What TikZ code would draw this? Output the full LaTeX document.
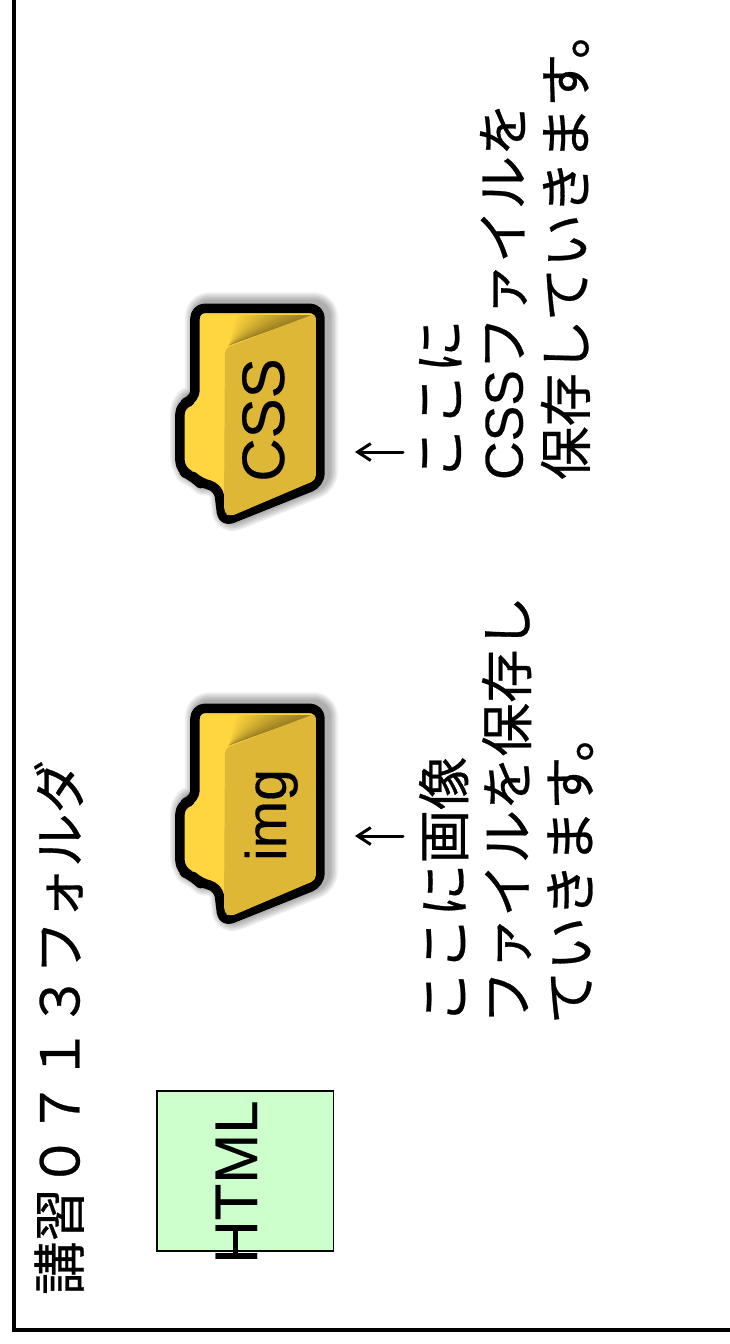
\documentclass[tikz,border=0pt]{standalone}
\usepackage{fontspec}
\setmainfont[FakeBold=0.5]{Noto Sans CJK JP}
\newfontfamily\latinfont[FakeBold=0.3]{Liberation Sans}
\usetikzlibrary{arrows.meta}
\definecolor{folderback}{HTML}{FFD540}
\definecolor{folderfront}{HTML}{DDB735}
\definecolor{boxgreen}{HTML}{CCFFCC}
\tikzset{
  every node/.style={inner sep=0pt,outer sep=0pt},
  note/.style={rotate=90,anchor=north west,align=left,font=\fontsize{53.5}{63}\selectfont},
  title/.style={rotate=90,anchor=west,font=\fontsize{53.5}{60}\selectfont},
  label/.style={rotate=90,anchor=base,font=\latinfont\fontsize{60}{60}\selectfont},
  pointer/.style={draw=black,line width=3pt,line cap=round,-{Straight Barb[length=13pt,width=17pt,line width=3pt]}},
  pics/folder/.style={code={
    \begin{scope}[x=.3333pt,y=-.3333pt]
      \def\outl{(135,200) -- (135,85) -- (510,85) -- (510,610) -- (218,727) -- (205,620) -- (150,610) -- (130,590) -- (90,572) -- (90,372) -- (135,360) -- cycle}
      \foreach \w in {28,25,22,19,16,13}{
        \draw[black,opacity=.06,line width=\w pt,line join=round,xshift=4pt,yshift=2pt,rounded corners=10pt] \outl;
      }
      \draw[fill=folderback,draw=black,line width=9.5pt,line join=round,rounded corners=10pt] \outl;
      \foreach \t in {260,270,...,470}{
        \fill[black,opacity=.018] (235,197) -- (490,105) -- (\t,105) -- cycle;
      }
      \fill[folderfront,rounded corners=5pt]
        (225,205) -- (498,100) -- (498,600) -- (240,710) -- (222,698) -- cycle;
    \end{scope}
  }}
}
\begin{document}
\begin{tikzpicture}[x=1pt,y=-1pt]
  \useasboundingbox (0,0) rectangle (729,1344);
  \fill[white] (0,0) rectangle (729,1344);
  \draw[line width=3.5pt] (14,-5) -- (14,1330) -- (735,1330);

  \node[title] (heading) at (59,1295) {講習０７１３フォルダ};

  \node[draw=black,fill=boxgreen,line width=1.2pt,minimum width=176.5pt,minimum height=160pt,anchor=north west] (htmlbox) at (157,1091) {};
  \node[label] (htmllabel) at (257,1182) {HTML};

  \pic at (150,680) {folder};
  \pic at (150,280) {folder};
  \node[label,font=\latinfont\fontsize{57}{60}\selectfont] (imglabel) at (286,815) {img};
  \node[label] (csslabel) at (284,420) {CSS};

  \coordinate (imgtail) at (403,836);
  \coordinate (imghead) at (355,836);
  \coordinate (csstail) at (403,452);
  \coordinate (csshead) at (355,452);
  \draw[pointer] (imgtail) -- (imghead);
  \draw[pointer] (csstail) -- (csshead);

  \node[note] (imgnote) at (419,1024) {ここに画像\\ファイルを保存し\\ていきます。};
  \node[note] (cssnote) at (419,480) {ここに\\{\latinfont CSS}ファイルを\\保存していきます。};
\end{tikzpicture}
\end{document}
